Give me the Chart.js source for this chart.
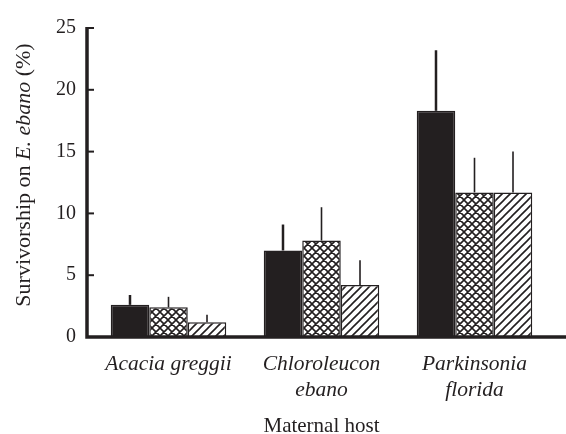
<!DOCTYPE html>
<html>
<head>
<meta charset="utf-8">
<script src="https://cdn.jsdelivr.net/npm/chart.js@4.4.1/dist/chart.umd.min.js"></script>
<style>
  html, body { margin: 0; padding: 0; background: #fff; }
  #wrap { width: 566px; height: 434px; }
</style>
</head>
<body>
<div id="wrap"><canvas id="chart"></canvas></div>
<script>
// values
var hosts = [['Acacia greggii'], ['Chloroleucon', 'ebano'], ['Parkinsonia', 'florida']];
var solid = [2.6, 7.0, 18.3];
var solidErr = [0.8, 2.1, 4.9];
var cross = [2.4, 7.8, 11.7];
var crossErr = [0.85, 2.7, 2.8];
var hatch = [1.2, 4.2, 11.7];
var hatchErr = [0.6, 2.0, 3.3];
var yTicks = [0, 5, 10, 15, 20, 25];

var ink = '#231f20';

function makePattern(both) {
  var s = 8;
  var c = document.createElement('canvas');
  c.width = s; c.height = s;
  var g = c.getContext('2d');
  g.fillStyle = '#fff';
  g.fillRect(0, 0, s, s);
  g.strokeStyle = ink;
  g.lineWidth = 1.6;
  g.beginPath();
  g.moveTo(-1, s + 1); g.lineTo(s + 1, -1);
  g.moveTo(-1, 1); g.lineTo(1, -1);
  g.moveTo(s - 1, s + 1); g.lineTo(s + 1, s - 1);
  if (both) {
    g.moveTo(-1, -1); g.lineTo(s + 1, s + 1);
    g.moveTo(-1, s - 1); g.lineTo(1, s + 1);
    g.moveTo(s - 1, -1); g.lineTo(s + 1, 1);
  }
  g.stroke();
  return g.createPattern(c, 'repeat');
}

var errs = [solidErr, crossErr, hatchErr];

var decor = {
  id: 'decor',
  afterDatasetsDraw: function(chart) {
    var ctx = chart.ctx;
    var ys = chart.scales.y;
    ctx.save();
    // error bars, upper half only
    chart.data.datasets.forEach(function(ds, i) {
      var meta = chart.getDatasetMeta(i);
      meta.data.forEach(function(bar, j) {
        var top = ys.getPixelForValue(ds.data[j] + errs[i][j]);
        ctx.strokeStyle = ink;
        ctx.lineWidth = i == 0 ? 2.5 : 1.6;
        ctx.beginPath();
        ctx.moveTo(bar.x, bar.y);
        ctx.lineTo(bar.x, top);
        ctx.stroke();
      });
    });
    // axes
    var x0 = 87, y0 = ys.getPixelForValue(0);
    ctx.strokeStyle = ink;
    ctx.lineWidth = 3.5;
    ctx.beginPath();
    ctx.moveTo(x0, ys.getPixelForValue(25) - 1);
    ctx.lineTo(x0, y0);
    ctx.lineTo(chart.width, y0);
    ctx.stroke();
    ctx.lineWidth = 2;
    yTicks.forEach(function(v) {
      var py = ys.getPixelForValue(v);
      ctx.beginPath();
      ctx.moveTo(x0, py);
      ctx.lineTo(x0 + 7, py);
      ctx.stroke();
    });
    // y title with italic species name
    var parts = [['Survivorship on ', ''], ['E. ebano', 'italic '], [' (%)', '']];
    var w = 0;
    parts.forEach(function(p) {
      ctx.font = p[1] + '22px "Liberation Serif"';
      w += ctx.measureText(p[0]).width;
    });
    ctx.translate(24, 175);
    ctx.rotate(-Math.PI / 2);
    ctx.fillStyle = ink;
    ctx.textBaseline = 'middle';
    var px = -w / 2;
    parts.forEach(function(p) {
      ctx.font = p[1] + '22px "Liberation Serif"';
      ctx.fillText(p[0], px, 0);
      px += ctx.measureText(p[0]).width;
    });
    ctx.restore();
  }
};

new Chart(document.getElementById('chart'), {
  type: 'bar',
  data: {
    labels: hosts,
    datasets: [
      { data: solid, backgroundColor: ink, borderColor: ink, borderWidth: 1.5 },
      { data: cross, backgroundColor: makePattern(true), borderColor: ink, borderWidth: 1.5 },
      { data: hatch, backgroundColor: makePattern(false), borderColor: ink, borderWidth: 1.5 }
    ]
  },
  options: {
    responsive: true,
    maintainAspectRatio: false,
    animation: false,
    layout: { padding: { top: 14, right: 15, left: 0, bottom: 0 } },
    datasets: { bar: { categoryPercentage: 0.755, barPercentage: 1 } },
    plugins: { legend: { display: false }, tooltip: { enabled: false } },
    scales: {
      x: {
        grid: { display: false, drawTicks: false },
        border: { display: false },
        ticks: {
          padding: 14,
          color: ink,
          font: { family: '"Liberation Serif"', size: 21.5, style: 'italic', lineHeight: 1.21 },
          maxRotation: 0
        },
        title: {
          display: true,
          text: 'Maternal host',
          color: ink,
          padding: 0,
          font: { family: '"Liberation Serif"', size: 21, lineHeight: 0.76 }
        },
        afterFit: function(s) { s.height = 97; }
      },
      y: {
        min: 0,
        max: 25,
        grid: { display: false, drawTicks: false },
        border: { display: false },
        ticks: {
          stepSize: 5,
          padding: 16,
          color: ink,
          font: { family: '"Liberation Serif"', size: 20 }
        },
        afterFit: function(s) { s.width = 92; }
      }
    }
  },
  plugins: [decor]
});
</script>
</body>
</html>
